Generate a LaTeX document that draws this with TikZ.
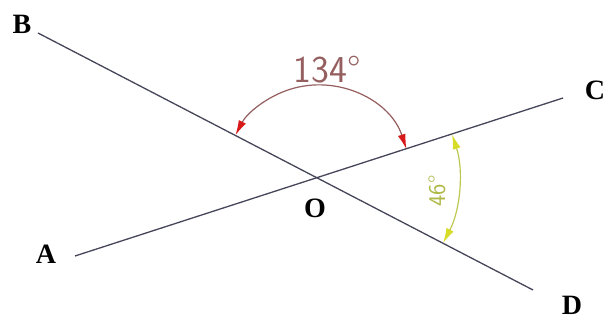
\documentclass[tikz,border=0pt]{standalone}
\usepackage{fontspec}
\setmainfont{Liberation Serif}
\usetikzlibrary{arrows.meta}
\definecolor{linegray}{RGB}{70,70,90}
\definecolor{redarc}{RGB}{150,95,95}
\definecolor{redtip}{RGB}{215,25,25}
\definecolor{redtext}{RGB}{150,95,95}
\definecolor{yelarc}{RGB}{190,200,80}
\definecolor{yeltip}{RGB}{215,220,40}
\definecolor{yeltext}{RGB}{175,185,70}
\begin{document}
\begin{tikzpicture}[x=1pt,y=1pt,
  ray/.style={draw=linegray,line width=1.3pt},
  ptlabel/.style={font=\fontsize{28}{28}\selectfont\bfseries,text=black,inner sep=0pt},
  redmeas/.style={draw=redarc,line width=1.2pt,
    {Latex[length=15pt,width=8pt,color=redtip]}-{Latex[length=15pt,width=8pt,color=redtip]}},
  yelmeas/.style={draw=yelarc,line width=1.2pt,
    {Latex[length=15pt,width=8pt,color=yeltip]}-{Latex[length=15pt,width=8pt,color=yeltip]}}]
\useasboundingbox (0,0) rectangle (604,320);
\fill[white] (0,0) rectangle (604,320);
\coordinate (O) at (318,142);
\coordinate (Bend) at (38,287);
\coordinate (Dend) at (533,30);
\coordinate (Aend) at (75,64);
\coordinate (Cend) at (563,222);
\draw[ray] (Aend) -- (Cend);
\draw[ray] (Bend) -- (Dend);
\node[ptlabel] (B) at (22,296) {B};
\node[ptlabel] (C) at (595,230) {C};
\node[ptlabel] (A) at (46,66) {A};
\node[ptlabel] (D) at (572,15) {D};
\node[ptlabel] (Olab) at (315,112) {O};
\draw[redmeas] ([shift={(18.1:93pt)}]O) arc[start angle=18.1,end angle=152.6,radius=93pt];
\draw[yelmeas] ([shift={(18.1:141pt)}]O) arc[start angle=18.1,end angle=-27.5,radius=141pt];
\node[font=\sffamily\fontsize{38}{38}\selectfont,text=redtext,inner sep=0pt] (t134) at (327,250) {134°};
\node[font=\sffamily\fontsize{24}{24}\selectfont,text=yeltext,inner sep=0pt,rotate=90] (t46) at (437,129) {46°};
\end{tikzpicture}
\end{document}
